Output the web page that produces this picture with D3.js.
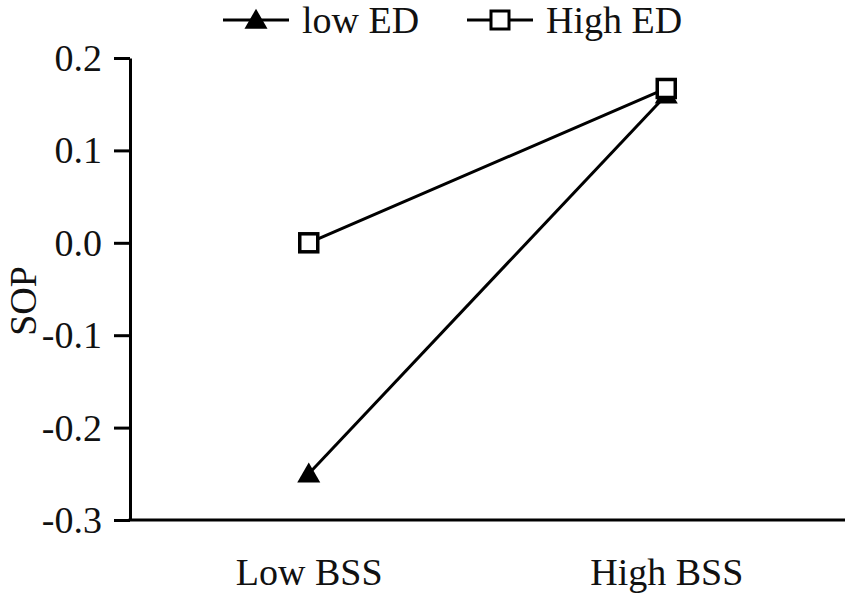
<!DOCTYPE html>
<html lang="en">
<head>
<meta charset="UTF-8">
<script src="https://d3js.org/d3.v7.min.js"></script>
<style>
    body {margin: 0; background: #fff}
    svg {display: block}
    text {font-family: "Liberation Serif", "Times New Roman", serif; fill: #111}
</style>
</head>
<body>
<svg class="chart"></svg>
<script>
    // data
    let categories = ['Low BSS', 'High BSS'];
    let lowED = [-0.25, 0.16];
    let highED = [0.0, 0.167];
    let yTicks = [-0.3, -0.2, -0.1, 0.0, 0.1, 0.2];
    let seriesNames = ['low ED', 'High ED'];

    let width = 851, height = 597;
    let plotLeft = 130, plotRight = 845, plotTop = 58, plotBottom = 520;

    let svg = d3.select('.chart').attr('width', width).attr('height', height);

    let x = d3.scalePoint().domain(categories).range([plotLeft, plotRight]).padding(0.5);
    let y = d3.scaleLinear().domain([-0.3, 0.2]).range([plotBottom, plotTop]);

    // plain hyphen for negatives, like the original
    let fmt = function (d) { return d.toFixed(1).replace('-0.0', '0.0'); };

    // y axis
    let yAxis = svg.append('g').attr('transform', 'translate(' + plotLeft + ',0)')
        .call(d3.axisLeft(y).tickValues(yTicks).tickFormat(fmt).tickSize(16).tickSizeOuter(0).tickPadding(12));
    yAxis.select('.domain').attr('stroke', '#000').attr('stroke-width', 3);
    yAxis.selectAll('.tick line').attr('stroke', '#000').attr('stroke-width', 3);
    yAxis.selectAll('.tick text').attr('font-size', 38).attr('fill', '#111').attr('dy', '0.33em');

    // x axis: line with labels, no ticks
    let xAxis = svg.append('g').attr('transform', 'translate(0,' + plotBottom + ')')
        .call(d3.axisBottom(x).tickSize(0).tickSizeOuter(0).tickPadding(38));
    xAxis.select('.domain').attr('stroke', '#000').attr('stroke-width', 3)
        .attr('d', 'M' + (plotLeft - 1.5) + ',0H' + plotRight);
    xAxis.selectAll('.tick text').attr('font-size', 38).attr('fill', '#111').attr('dy', '0.71em');

    svg.append('text')
        .attr('transform', 'translate(36,301) rotate(-90)')
        .attr('text-anchor', 'middle')
        .attr('font-size', 38)
        .text('SOP');

    let line = d3.line().x(function (d, i) { return x(categories[i]); }).y(function (d) { return y(d); });
    let tri = d3.symbol().type(d3.symbolTriangle).size(230);

    svg.append('path').datum(lowED).attr('d', line).attr('fill', 'none').attr('stroke', '#000').attr('stroke-width', 3);
    svg.append('path').datum(highED).attr('d', line).attr('fill', 'none').attr('stroke', '#000').attr('stroke-width', 3);

    svg.append('g').selectAll('path').data(lowED).enter().append('path')
        .attr('d', tri)
        .attr('transform', function (d, i) { return 'translate(' + x(categories[i]) + ',' + (y(d) + 2) + ')'; })
        .attr('fill', '#000');

    svg.append('g').selectAll('rect').data(highED).enter().append('rect')
        .attr('x', function (d, i) { return x(categories[i]) - 9; })
        .attr('y', function (d) { return y(d) - 9; })
        .attr('width', 18).attr('height', 18)
        .attr('fill', '#fff').attr('stroke', '#000').attr('stroke-width', 3.5);

    // legend
    let legend = svg.append('g');
    let lx = [223, 467];
    seriesNames.forEach(function (name, i) {
        let g = legend.append('g').attr('transform', 'translate(' + lx[i] + ',20)');
        g.append('line').attr('x1', 0).attr('x2', 66).attr('y1', 0).attr('y2', 0).attr('stroke', '#000').attr('stroke-width', 3);
        if (i === 0) {
            g.append('path').attr('d', tri).attr('transform', 'translate(33,2)').attr('fill', '#000');
        } else {
            g.append('rect').attr('x', 24).attr('y', -9).attr('width', 18).attr('height', 18)
                .attr('fill', '#fff').attr('stroke', '#000').attr('stroke-width', 3);
        }
        g.append('text').attr('x', 79).attr('y', 13).attr('font-size', 38).text(name);
    });
</script>
</body>
</html>
